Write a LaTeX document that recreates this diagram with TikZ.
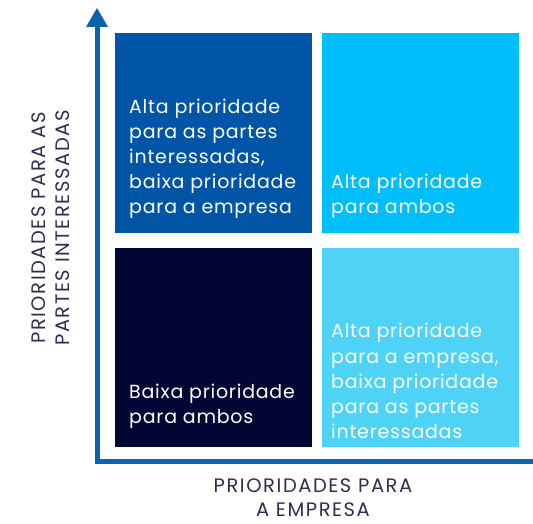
\documentclass[tikz,border=0pt]{standalone}
\usepackage{fontspec}
\setmainfont{Poppins}
\newfontfamily\qfont[LetterSpace=4]{Poppins}
\newfontfamily\lfont[LetterSpace=8]{Poppins}
\begin{document}
\begin{tikzpicture}[x=1pt,y=-1pt,
  quad/.style={anchor=north west,inner sep=0pt,minimum width=197pt,minimum height=200pt},
  qtext/.style={anchor=south west,align=left,text=white,font=\qfont\fontsize{19}{25.2}\selectfont,inner sep=0pt},
  axlabel/.style={align=center,text=labelc,font=\lfont\fontsize{19.5}{24}\selectfont,inner sep=0pt}]
\definecolor{qdark}{HTML}{0055A6}
\definecolor{qcyan}{HTML}{00BEFA}
\definecolor{qnavy}{HTML}{020634}
\definecolor{qlight}{HTML}{4ED3F7}
\definecolor{axisc}{HTML}{0B63B0}
\definecolor{labelc}{HTML}{2B2E52}
\useasboundingbox (0,0) rectangle (533,524);
% quadrants
\node[quad,fill=qdark] (tl) at (115,33) {};
\node[quad,fill=qcyan] (tr) at (322,33) {};
\node[quad,fill=qnavy,minimum height=199pt] (bl) at (115,248) {};
\node[quad,fill=qlight,minimum height=199pt] (br) at (322,248) {};
% texts
\node[qtext] (tlt) at (129,219) {Alta prioridade\\para as partes\\interessadas,\\baixa prioridade\\para a empresa};
\node[qtext] (trt) at (331,219) {Alta prioridade\\para ambos};
\node[qtext] (blt) at (129,429) {Baixa prioridade\\para ambos};
\node[qtext] (brt) at (331,439) {Alta prioridade\\para a empresa,\\baixa prioridade\\para as partes\\interessadas};
% axes
\coordinate (top) at (97.5,24);
\coordinate (corner) at (97.5,461.5);
\coordinate (right) at (533,461.5);
\draw[axisc,line width=5pt] (top) -- (corner) -- (right);
\fill[axisc] (86,27) -- (97,8) -- (108,27) -- cycle;
% labels
\node[axlabel,rotate=90] (ylab) at (51,228) {PRIORIDADES PARA AS\\PARTES INTERESSADAS};
\node[axlabel] (xlab) at (313,498) {PRIORIDADES PARA\\A EMPRESA};
\end{tikzpicture}
\end{document}
